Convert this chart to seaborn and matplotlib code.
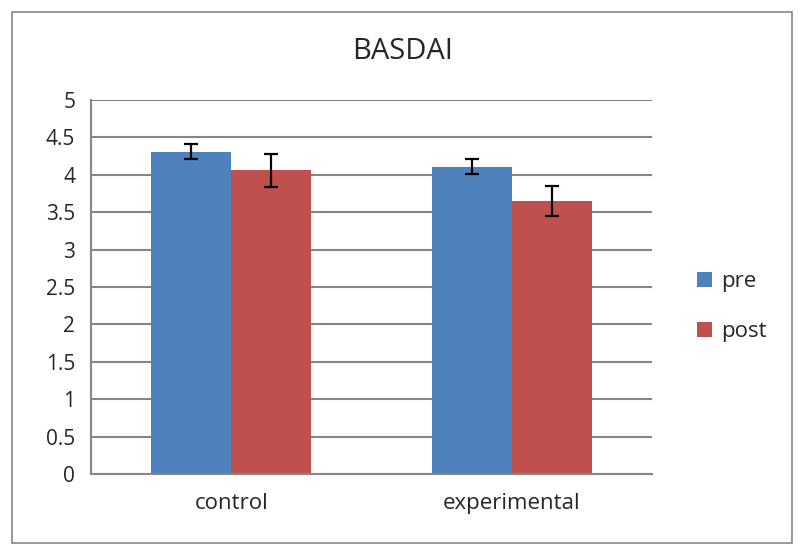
import matplotlib
matplotlib.use("Agg")
import matplotlib.pyplot as plt
import seaborn as sns
import pandas as pd
from matplotlib.patches import Rectangle

# dados
grupos = ["control", "experimental"]
momentos = ["pre", "post"]
media_pre = [4.31, 4.11]
media_post = [4.06, 3.65]
erro_pre = [0.105, 0.105]
erro_post = [0.225, 0.20]
y_ticks = [0, 0.5, 1, 1.5, 2, 2.5, 3, 3.5, 4, 4.5, 5]

tabela = pd.DataFrame({
    "grupo": grupos * 2,
    "momento": ["pre"] * 2 + ["post"] * 2,
    "valor": media_pre + media_post,
    "erro": erro_pre + erro_post,
})

sns.set_style("white")
plt.rcParams["font.family"] = ["Open Sans", "DejaVu Sans"]

cinza = "#868686"
cores = {"pre": "#4F81BD", "post": "#C0504D"}

fig = plt.figure(figsize=(8, 5.52), dpi=100)
ax = fig.add_axes([0.114, 0.1413, 0.701, 0.6775])

sns.barplot(data=tabela, x="grupo", y="valor", hue="momento", hue_order=momentos,
            order=grupos, palette=cores, width=0.57, errorbar=None, saturation=1,
            linewidth=0, ax=ax)

# barras de erro em cima das barras do seaborn
barras = [p for p in ax.patches if p.get_height() > 0]
for p in barras:
    cx = p.get_x() + p.get_width() / 2
    h = p.get_height()
    linha = tabela[(tabela["valor"] - h).abs() < 1e-9].iloc[0]
    ax.errorbar(cx, h, yerr=linha["erro"], color="black", elinewidth=1.6,
                capsize=5, capthick=1.6, zorder=5)

ax.set_ylim(0, 5)
ax.set_xlim(-0.5, 1.5)
ax.set_yticks(y_ticks)
ax.set_yticklabels([f"{t:g}" for t in y_ticks], fontsize=15)
ax.tick_params(axis="x", labelsize=16, pad=10)
ax.tick_params(axis="y", pad=8)
ax.set_xlabel("")
ax.set_ylabel("")
ax.yaxis.grid(True, color=cinza, linewidth=1.5)
ax.set_axisbelow(True)
for lado in ["top", "right"]:
    ax.spines[lado].set_visible(False)
for lado in ["left", "bottom"]:
    ax.spines[lado].set_color(cinza)
    ax.spines[lado].set_linewidth(1.5)

ax.legend(loc="center left", bbox_to_anchor=(0.846, 0.444), bbox_transform=fig.transFigure,
          frameon=False, fontsize=16, handlelength=0.7, handleheight=0.7,
          handletextpad=0.4, labelspacing=1.3)

fig.text(0.503, 0.907, "BASDAI", ha="center", va="center", fontsize=21)

fig.patches.append(Rectangle((0.015, 0.016), 0.975, 0.963, transform=fig.transFigure,
                             fill=False, edgecolor=cinza, linewidth=1.2))

fig.savefig("out.png", dpi=100)
